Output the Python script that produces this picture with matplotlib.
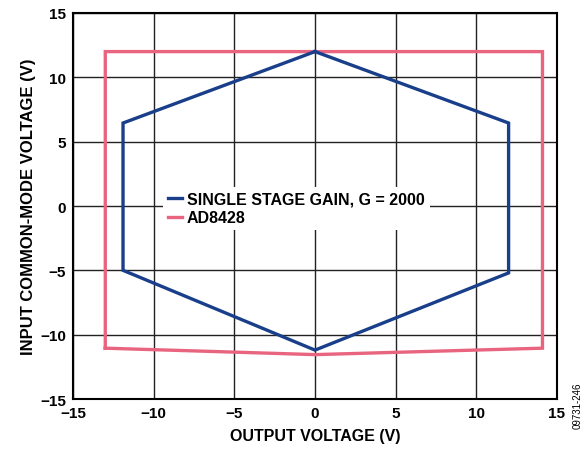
import matplotlib.pyplot as plt
import numpy as np

plt.rcParams['font.family'] = ['Liberation Sans', 'DejaVu Sans']
plt.rcParams['font.weight'] = 'bold'

# single stage gain, G = 2000 (closed hexagon)
singleX = [0, 12.0, 12.0, 0, -11.9, -11.9, 0]
singleY = [12.0, 6.45, -5.2, -11.2, -5.0, 6.45, 12.0]

# AD8428
adX = [-13.0, -13.0, 14.1, 14.1, 0, -13.0]
adY = [-11.05, 12.0, 12.0, -11.05, -11.55, -11.05]

ticks = [-15, -10, -5, 0, 5, 10, 15]
tickLabels = ['\u221215', '\u221210', '\u22125', '0', '5', '10', '15']

fig = plt.figure(figsize=(5.86, 4.56), dpi=100)
ax = fig.add_axes([0.1246, 0.1228, 0.8259, 0.8465])

ax.plot(singleX, singleY, color='#1a3f8a', lw=2.4, label='SINGLE STAGE GAIN, G = 2000',
        solid_joinstyle='miter', zorder=3)
ax.plot(adX, adY, color='#e8647f', lw=2.4, label='AD8428', solid_joinstyle='miter', zorder=2)

ax.set_xlim(-15, 15)
ax.set_ylim(-15, 15)
ax.set_xticks(ticks)
ax.set_xticklabels(tickLabels)
ax.set_yticks(ticks)
ax.set_yticklabels(tickLabels)
ax.tick_params(length=0, labelsize=11, pad=5)
ax.grid(True, color='#222222', lw=1.0)
for s in ax.spines.values():
    s.set_linewidth(1.5)

ax.set_xlabel('OUTPUT VOLTAGE (V)', fontsize=11.5, fontweight='bold', labelpad=6)
ax.set_ylabel('INPUT COMMON-MODE VOLTAGE (V)', fontsize=12, fontweight='bold', labelpad=3)

leg = ax.legend(loc='upper left', bbox_to_anchor=(0.186, 0.55), frameon=True, fancybox=False,
                framealpha=1, edgecolor='white', fontsize=11.5, handlelength=0.9,
                handletextpad=0.3, borderpad=0.3, labelspacing=0.25, borderaxespad=0)
leg.get_frame().set_linewidth(0)

fig.text(0.985, 0.06, '09731-246', rotation=90, fontsize=7, fontweight='normal',
         ha='center', va='bottom')

fig.savefig('out.png', dpi=100)
